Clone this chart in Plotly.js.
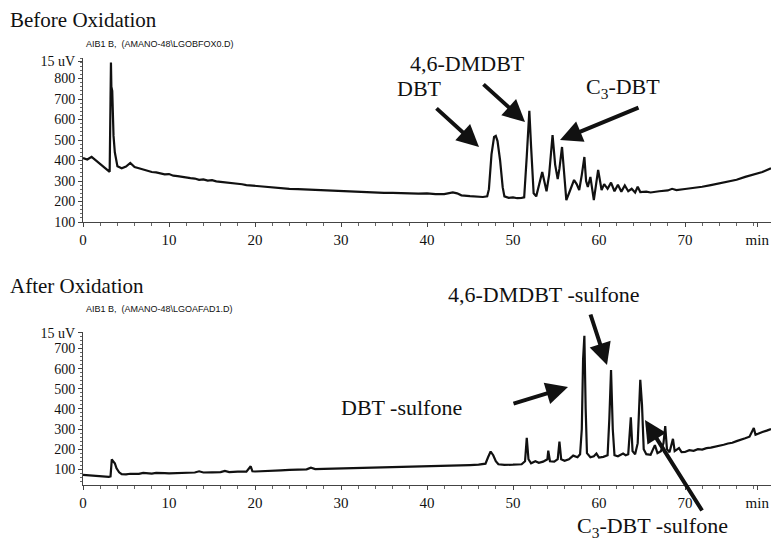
<!DOCTYPE html>
<html>
<head>
<meta charset="utf-8">
<script src="https://cdn.plot.ly/plotly-3.0.1.min.js"></script>
<style>html,body{margin:0;padding:0;background:#fff;}#chart{width:771px;height:543px;}</style>
</head>
<body>
<div id="chart"></div>
<script>
// Before oxidation chromatogram (retention time, min ; signal, uV)
const beforeTime = [0,0.5,1,1.5,2,2.5,3.0,3.1,3.2,3.25,3.3,3.4,3.55,3.7,3.85,4.0,4.5,5.0,5.5,6.0,6.5,7.0,7.5,8.0,8.5,9.0,9.5,10,10.5,11,11.5,12,12.5,13,13.5,14,14.5,15,15.5,16,16.5,17,17.5,18,18.5,19,19.5,20,21,22,23,24,25,26,27,28,29,30,31,32,33,34,35,36,37,38,39,40,41,42,43,43.5,44,45,46,46.5,47,47.2,47.5,47.8,48.0,48.2,48.5,48.8,49.0,49.5,50,50.5,51,51.3,51.6,51.9,52.1,52.4,52.7,53.0,53.4,53.9,54.2,54.6,54.9,55.2,55.4,55.7,56.0,56.2,56.6,57.1,57.4,57.7,58.0,58.3,58.5,58.7,59.0,59.4,59.9,60.3,60.6,61.0,61.4,61.8,62.2,62.6,63.0,63.4,63.8,64.2,64.5,64.8,65.5,66,67,68,68.5,69,70,71,72,73,74,75,76,77,78,79,80];
const beforeSignal = [412,405,418,400,382,362,348,345,700,878,760,740,520,440,395,372,362,370,388,368,362,355,350,344,342,337,332,334,326,324,320,318,314,312,306,308,302,304,298,296,294,292,288,286,284,280,278,276,272,268,266,262,260,258,256,254,252,250,250,248,246,244,242,242,240,240,238,240,236,236,244,240,230,226,224,222,225,260,430,515,520,495,400,270,225,218,220,216,218,220,420,642,470,240,225,280,344,250,330,524,380,310,360,466,300,207,250,305,285,256,330,417,300,271,320,207,354,256,285,262,292,250,282,248,278,250,262,244,272,246,248,244,250,254,262,256,261,266,272,280,288,295,306,320,332,344,362];

// After oxidation chromatogram
const afterTime = [0,0.5,1,1.5,2,2.5,3.0,3.2,3.35,3.5,3.7,3.9,4.2,4.5,5,5.5,6,6.5,7,7.5,8,8.5,9,9.5,10,11,12,13,13.5,14,15,16,16.5,17,18,19,19.5,19.7,20,21,22,23,24,25,26,26.5,27,28,29,30,31,32,33,34,35,36,37,38,39,40,41,42,43,44,45,46,46.8,47.1,47.4,47.7,48.0,48.3,49,50,51,51.4,51.6,51.8,52.1,52.6,53,53.5,54.0,54.1,54.3,54.8,55.2,55.4,55.6,56,56.5,57,57.5,57.8,58.0,58.15,58.3,58.45,58.6,59,59.4,59.7,60,60.5,61,61.2,61.4,61.6,61.8,62.2,62.5,62.8,63.1,63.4,63.7,63.9,64.2,64.5,64.8,65.0,65.2,65.5,66,66.5,66.8,67.2,67.5,67.7,67.9,68.2,68.6,68.8,69.3,69.6,70,70.5,71,71.5,72,72.5,73,73.5,74,74.5,75,75.5,76,76.5,77,77.5,78,78.2,78.5,79,79.5,80];
const afterSignal = [72,70,70,68,64,62,62,65,150,140,130,105,85,76,75,78,79,77,82,80,79,82,80,81,80,82,83,84,90,84,85,86,92,86,88,88,115,90,89,92,94,95,97,98,100,108,101,102,103,104,105,106,107,108,109,110,111,112,112,113,114,115,117,119,121,123,128,160,188,170,140,125,122,123,125,140,256,150,130,140,132,138,150,193,140,138,150,237,150,142,150,168,160,175,300,646,763,400,180,160,165,178,158,162,170,350,593,300,170,165,172,178,170,175,358,190,175,230,544,420,200,175,172,220,180,190,230,315,200,185,251,190,205,185,186,195,192,200,198,205,208,212,216,222,228,232,240,246,254,262,305,272,278,285,292,300];

// Axis ticks and labels
const xTickVals = [0,10,20,30,40,50,60,70,78.4];
const xTickText = ['0','10','20','30','40','50','60','70','min'];
const yTopTickVals = [100,200,300,400,500,600,700,800,885];
const yTopTickText = ['100','200','300','400','500','600','700','800','15 uV'];
const yBotTickVals = [100,200,300,400,500,600,700,778];
const yBotTickText = ['100','200','300','400','500','600','700','15 uV'];

const W = 771, H = 543;
const px = v => v / W;
const py = v => 1 - v / H;

const serif = 'Liberation Serif, Times New Roman, serif';
const lineStyle = {color: '#111', width: 2.2};

const traces = [
  {x: beforeTime, y: beforeSignal, type: 'scatter', mode: 'lines', line: lineStyle, xaxis: 'x', yaxis: 'y', hoverinfo: 'skip'},
  {x: afterTime, y: afterSignal, type: 'scatter', mode: 'lines', line: lineStyle, xaxis: 'x2', yaxis: 'y2', hoverinfo: 'skip'}
];

function xAxis(anchor) {
  return {
    domain: [83 / W, 1], range: [0, 80], anchor: anchor,
    showline: true, linecolor: '#444', linewidth: 1, zeroline: false, showgrid: false,
    ticks: 'outside', ticklen: 4, tickcolor: '#444', tickwidth: 1,
    tickmode: 'array', tickvals: xTickVals, ticktext: xTickText,
    tickfont: {family: serif, size: 15, color: '#111'},
    minor: {dtick: 2, ticks: 'outside', ticklen: 3, tickcolor: '#666', showgrid: false}
  };
}
function yAxis(anchor, domain, range, vals, text) {
  return {
    domain: domain, range: range, anchor: anchor,
    showline: true, linecolor: '#444', linewidth: 1, zeroline: false, showgrid: false,
    ticks: 'outside', ticklen: 4, tickcolor: '#444', tickwidth: 1,
    tickmode: 'array', tickvals: vals, ticktext: text,
    tickfont: {family: serif, size: 14, color: '#111'},
    minor: {dtick: 20, ticks: 'outside', ticklen: 2, tickcolor: '#666', showgrid: false}
  };
}

function label(text, x, y, size, xanchor, family) {
  return {text: text, xref: 'paper', yref: 'paper', x: px(x), y: py(y), showarrow: false,
    xanchor: xanchor || 'center', yanchor: 'middle',
    font: {family: family || serif, size: size, color: '#111'}};
}
function arrow(tailX, tailY, tipX, tipY) {
  return {text: '', xref: 'paper', yref: 'paper', x: px(tipX), y: py(tipY),
    ax: tailX - tipX, ay: tailY - tipY, axref: 'pixel', ayref: 'pixel',
    showarrow: true, arrowhead: 2, arrowsize: 1.1, arrowwidth: 4, arrowcolor: '#111', standoff: 0};
}

const annotations = [
  label('Before Oxidation', 8, 20, 21, 'left'),
  label('After Oxidation', 8, 286, 21, 'left'),
  label('AIB1 B,  (AMANO-48\\LGOBFOX0.D)', 84, 44, 9, 'left', 'Liberation Sans, Arial, sans-serif'),
  label('AIB1 B,  (AMANO-48\\LGOAFAD1.D)', 84, 309, 9, 'left', 'Liberation Sans, Arial, sans-serif'),
  label('DBT', 420, 88, 22),
  label('4,6-DMDBT', 468, 63, 22),
  label('C<sub>3</sub>-DBT', 623, 88, 22),
  label('4,6-DMDBT -sulfone', 543, 295, 22),
  label('DBT -sulfone', 401, 407, 22),
  label('C<sub>3</sub>-DBT -sulfone', 652, 527, 22),
  arrow(435, 107, 479, 147),
  arrow(482, 83, 525, 122),
  arrow(640, 107, 560, 140),
  arrow(590, 313, 607, 365),
  arrow(512, 404, 568, 387),
  arrow(703, 512, 645, 420)
];

const layout = {
  width: W, height: H,
  margin: {l: 0, r: 0, t: 0, b: 0},
  paper_bgcolor: '#fff', plot_bgcolor: '#fff',
  showlegend: false,
  xaxis: xAxis('y'),
  yaxis: yAxis('x', [1 - 222 / H, 1 - 58 / H], [100, 900], yTopTickVals, yTopTickText),
  xaxis2: xAxis('y2'),
  yaxis2: yAxis('x2', [1 - 485 / H, 1 - 332 / H], [22, 782], yBotTickVals, yBotTickText),
  annotations: annotations
};

Plotly.newPlot('chart', traces, layout, {staticPlot: true, displayModeBar: false});
</script>
</body>
</html>
